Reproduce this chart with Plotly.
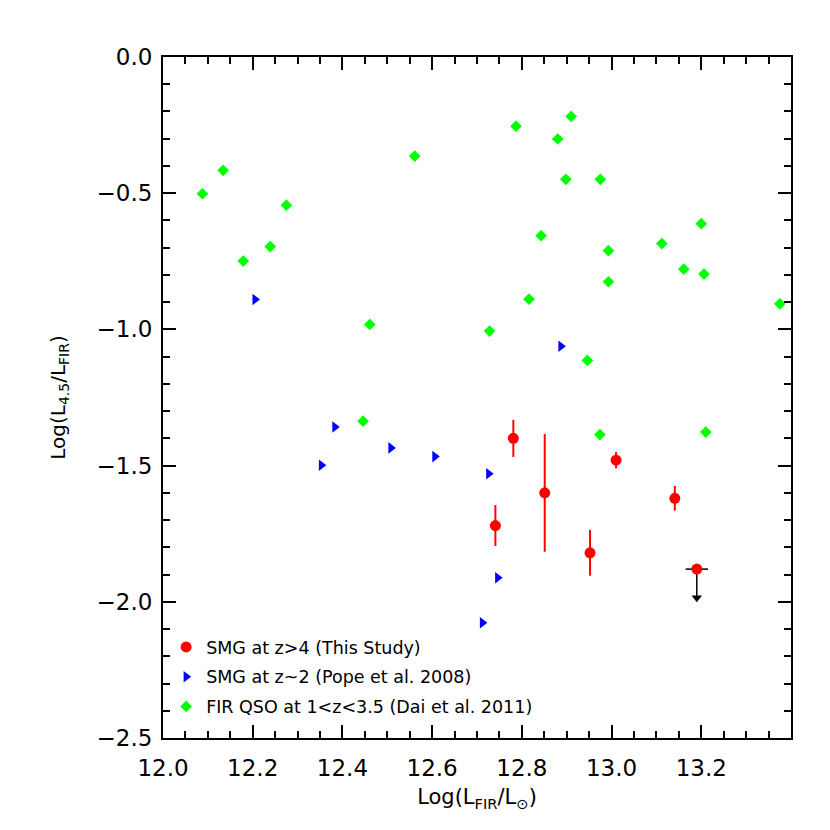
import plotly.graph_objects as go

# SMG at z>4 (This Study)
smg4_x = [12.781, 12.741, 12.851, 12.952, 13.010, 13.141]
smg4_y = [-1.40, -1.72, -1.60, -1.82, -1.48, -1.62]
smg4_err = [0.068, 0.075, 0.216, 0.084, 0.030, 0.045]

# upper limit point
lim_x = [13.19]
lim_y = [-1.88]
lim_len = [0.105]
lim_xerr = [0.025]

# SMG at z~2 (Pope et al. 2008)
pope_x = [12.205, 12.887, 12.353, 12.383, 12.508, 12.606, 12.726, 12.746, 12.712]
pope_y = [-0.890, -1.062, -1.499, -1.358, -1.435, -1.467, -1.530, -1.912, -2.077]

# FIR QSO at 1<z<3.5 (Dai et al. 2011)
qso_x = [12.088, 12.134, 12.179, 12.239, 12.275, 12.561, 12.461,
         12.787, 12.910, 12.880, 12.898, 12.975, 12.843, 12.993, 13.112,
         13.200, 13.161, 13.206, 12.993, 12.816, 13.375, 12.728, 12.946,
         12.446, 12.974, 13.210]
qso_y = [-0.502, -0.416, -0.749, -0.696, -0.544, -0.364, -0.982,
         -0.254, -0.218, -0.301, -0.449, -0.449, -0.656, -0.711, -0.685,
         -0.612, -0.779, -0.797, -0.825, -0.889, -0.906, -1.006, -1.114,
         -1.337, -1.386, -1.377]

x_ticks = [12.0, 12.2, 12.4, 12.6, 12.8, 13.0, 13.2]
x_ticklabels = ["12.0", "12.2", "12.4", "12.6", "12.8", "13.0", "13.2"]
y_ticks = [0.0, -0.5, -1.0, -1.5, -2.0, -2.5]
y_ticklabels = ["0.0", "\u22120.5", "\u22121.0", "\u22121.5", "\u22122.0", "\u22122.5"]

FONT = "DejaVu Sans"

fig = go.Figure()

# upper limit bar + arrow
fig.add_trace(go.Scatter(
    x=lim_x, y=lim_y, mode="markers", showlegend=False,
    marker=dict(size=1, color="black", opacity=0),
    error_x=dict(type="data", array=lim_xerr, color="black", thickness=1.5, width=0),
    error_y=dict(type="data", symmetric=False, array=[0], arrayminus=lim_len,
                 color="black", thickness=1.5, width=0),
))
fig.add_trace(go.Scatter(
    x=lim_x, y=[lim_y[0] - lim_len[0]], mode="markers", showlegend=False,
    marker=dict(symbol="triangle-down", size=9, color="black"),
))

fig.add_trace(go.Scatter(
    x=smg4_x + lim_x, y=smg4_y + lim_y, mode="markers",
    name="SMG at z>4 (This Study)", legendgroup="a",
    marker=dict(symbol="circle", size=11, color="#ff0000"),
    error_y=dict(type="data", array=smg4_err + [0], color="#ff0000", thickness=2, width=0),
))
fig.add_trace(go.Scatter(
    x=pope_x, y=pope_y, mode="markers", legendgroup="b",
    name="SMG at z~2 (Pope et al. 2008)",
    marker=dict(symbol="triangle-right", size=10, color="#0000ff"),
))
fig.add_trace(go.Scatter(
    x=qso_x, y=qso_y, mode="markers", legendgroup="c",
    name="FIR QSO at 1<z<3.5 (Dai et al. 2011)",
    marker=dict(symbol="diamond", size=9, color="#00ff00"),
))

axis_common = dict(
    showgrid=False, zeroline=False, showline=True, linecolor="black", linewidth=2,
    mirror="ticks", ticks="inside", ticklen=13, tickwidth=2, tickcolor="black",
    tickfont=dict(family=FONT, size=23, color="black"),
    minor=dict(ticks="inside", ticklen=7, tickwidth=2, tickcolor="black", showgrid=False),
)

fig.update_xaxes(
    range=[12.0, 13.4], tickvals=x_ticks, ticktext=x_ticklabels,
    title=dict(text="Log(L<sub>FIR</sub>/L<sub>\u2299</sub>)", font=dict(family=FONT, size=21, color="black"), standoff=10),
    **axis_common,
)
fig.update_xaxes(minor=dict(dtick=0.05), ticklabelstandoff=8)
fig.update_yaxes(
    range=[-2.5, 0.0], tickvals=y_ticks, ticktext=y_ticklabels,
    title=dict(text="Log(L<sub>4.5</sub>/L<sub>FIR</sub>)", font=dict(family=FONT, size=20, color="black"), standoff=26),
    **axis_common,
)
fig.update_yaxes(minor=dict(dtick=0.1), ticklabelstandoff=4)

fig.update_layout(
    width=830, height=830,
    margin=dict(l=155, r=47, t=49, b=100),
    plot_bgcolor="white", paper_bgcolor="white",
    font=dict(family=FONT, color="black"),
    legend=dict(x=0.005, y=0.16, xanchor="left", yanchor="top",
                bgcolor="rgba(0,0,0,0)", font=dict(family=FONT, size=17.5, color="black"),
                tracegroupgap=4),
)

fig.write_html("out.html")
